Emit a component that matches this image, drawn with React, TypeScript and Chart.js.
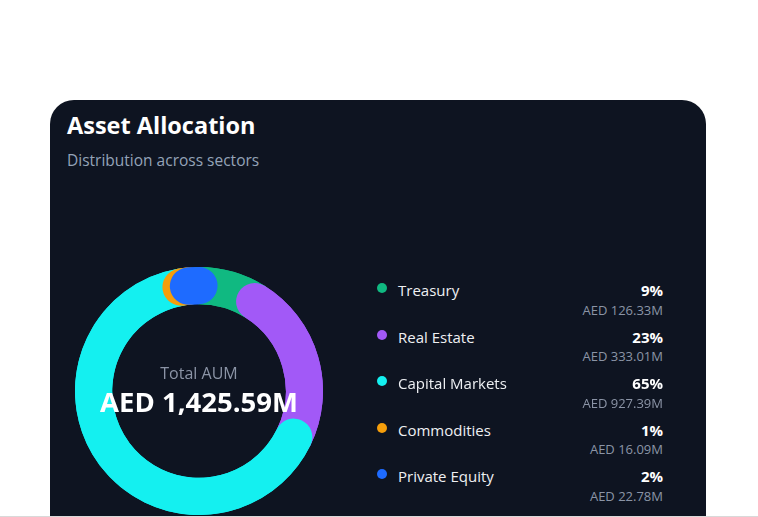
import React, { useEffect, useRef } from "react";
import { Chart, registerables } from "chart.js";

Chart.register(...registerables);

const categories = ["Treasury", "Real Estate", "Capital Markets", "Commodities", "Private Equity"];
const valuesM = [126.33, 333.01, 927.39, 16.09, 22.78];
const percentLabels = ["9%", "23%", "65%", "1%", "2%"];
const amountLabels = ["AED 126.33M", "AED 333.01M", "AED 927.39M", "AED 16.09M", "AED 22.78M"];
const sliceColors = ["#10b981", "#a259f7", "#14f0f0", "#f59e0b", "#1e6bff"];
const totalLabel = "AED 1,425.59M";

const FONT = "'Open Sans', 'Noto Sans', sans-serif";

const roundCaps = {
  id: "roundCaps",
  afterDatasetsDraw(chart: any) {
    const meta = chart.getDatasetMeta(0);
    const ctx = chart.ctx;
    ctx.save();
    meta.data.forEach((arc: any, i: number) => {
      const p = arc.getProps(["x", "y", "startAngle", "endAngle", "innerRadius", "outerRadius"], true);
      const r = (p.innerRadius + p.outerRadius) / 2;
      ctx.beginPath();
      ctx.arc(p.x, p.y, r, p.startAngle, p.endAngle);
      ctx.lineWidth = p.outerRadius - p.innerRadius;
      ctx.lineCap = "round";
      ctx.strokeStyle = sliceColors[i];
      ctx.stroke();
    });
    ctx.restore();
  },
};

function Donut() {
  const ref = useRef<HTMLCanvasElement | null>(null);
  useEffect(() => {
    if (!ref.current) return;
    const chart = new Chart(ref.current, {
      type: "doughnut",
      data: {
        labels: categories,
        datasets: [
          {
            data: valuesM,
            backgroundColor: sliceColors,
            borderWidth: 0,
          },
        ],
      },
      options: {
        animation: false,
        responsive: true,
        maintainAspectRatio: false,
        cutout: "70%",
        layout: { padding: 0 },
        plugins: { legend: { display: false }, tooltip: { enabled: false } },
        events: [],
      },
      plugins: [roundCaps],
    });
    return () => chart.destroy();
  }, []);
  return (
    <div style={{ position: "absolute", left: 75, top: 267, width: 248, height: 248 }}>
      <canvas ref={ref} />
    </div>
  );
}

export default function App() {
  return (
    <div
      style={{
        position: "absolute",
        left: 0,
        top: 0,
        width: 758,
        height: 517,
        overflow: "hidden",
        background: "#ffffff",
        fontFamily: FONT,
      }}
    >
      <div
        style={{
          position: "absolute",
          left: 50,
          top: 100,
          width: 656,
          height: 416,
          background: "#0e1421",
          borderRadius: "24px 24px 0 0",
        }}
      />
      <div style={{ position: "absolute", left: 0, top: 516, width: 758, height: 1, background: "#d9d9d9" }} />
      <div
        style={{
          position: "absolute",
          left: 67,
          top: 109,
          fontSize: 23.5,
          lineHeight: "32px",
          fontWeight: 700,
          color: "#ffffff",
          whiteSpace: "nowrap",
        }}
      >
        Asset Allocation
      </div>
      <div
        style={{
          position: "absolute",
          left: 67,
          top: 150,
          fontSize: 15.5,
          lineHeight: "20px",
          color: "#94a3b8",
          whiteSpace: "nowrap",
        }}
      >
        Distribution across sectors
      </div>

      <Donut />

      <div
        style={{
          position: "absolute",
          left: 99,
          width: 200,
          top: 362.5,
          textAlign: "center",
          fontSize: 16,
          lineHeight: "20px",
          color: "#8b94a6",
          whiteSpace: "nowrap",
        }}
      >
        Total AUM
      </div>
      <div
        style={{
          position: "absolute",
          left: 49,
          width: 300,
          top: 385,
          textAlign: "center",
          fontSize: 27.5,
          lineHeight: "34px",
          fontWeight: 700,
          color: "#ffffff",
          whiteSpace: "nowrap",
        }}
      >
        {totalLabel}
      </div>

      {categories.map((c, i) => {
        const top = 280 + i * 46.5;
        return (
          <div key={c} style={{ position: "absolute", left: 370, top, width: 294, height: 44 }}>
            <div
              style={{
                position: "absolute",
                left: 6.5,
                top: 3,
                width: 10,
                height: 10,
                borderRadius: 5,
                background: sliceColors[i],
              }}
            />
            <div
              style={{
                position: "absolute",
                left: 28,
                top: 0,
                fontSize: 15,
                lineHeight: "20px",
                color: "#eef0f3",
                whiteSpace: "nowrap",
              }}
            >
              {c}
            </div>
            <div
              style={{
                position: "absolute",
                right: 1,
                top: 0,
                fontSize: 15,
                lineHeight: "20px",
                fontWeight: 700,
                color: "#ffffff",
                whiteSpace: "nowrap",
              }}
            >
              {percentLabels[i]}
            </div>
            <div
              style={{
                position: "absolute",
                right: 1,
                top: 21.5,
                fontSize: 13,
                lineHeight: "16px",
                color: "#8b94a6",
                whiteSpace: "nowrap",
              }}
            >
              {amountLabels[i]}
            </div>
          </div>
        );
      })}
    </div>
  );
}
